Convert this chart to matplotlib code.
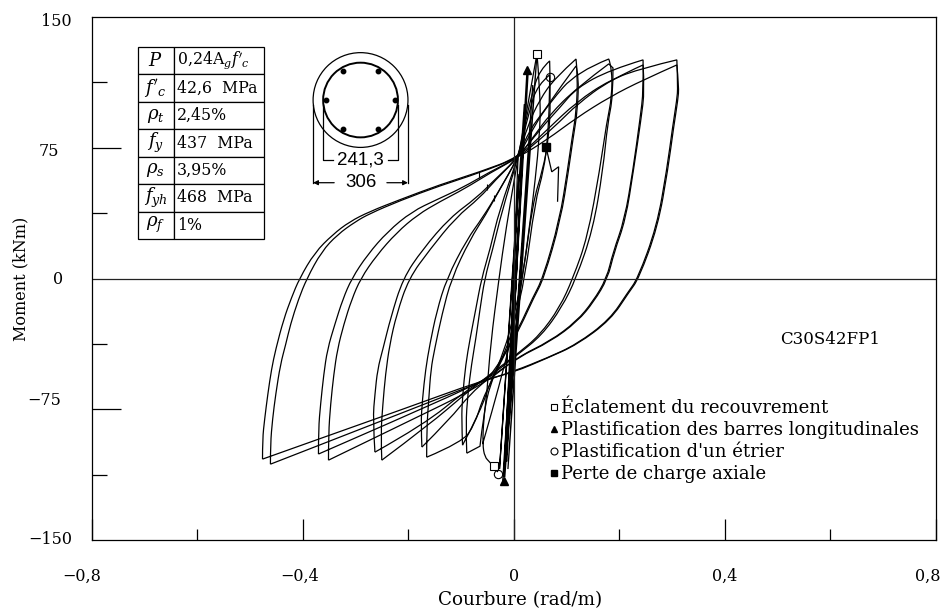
"""Moment-curvature hysteresis of specimen C30S42FP1."""

import matplotlib

matplotlib.use("Agg")

import matplotlib.pyplot as plt
import numpy as np
from matplotlib.lines import Line2D
from matplotlib.patches import Circle, PathPatch
from matplotlib.path import Path

plt.rcParams["font.family"] = ["DejaVu Serif"]
plt.rcParams["mathtext.fontset"] = "dejavuserif"

# curvature (rad/m) and moment (kNm)
loop1a_phi = [-.476, -.476, -.472, -.466, -.459, -.451, -.436, -.421, -.406, -.377, -.343, -.311, -.273, -.216, -.140, -.064, .008, .063, .119, .182, .245, .309, .311, .309, .301, .290, .271, .235, .216, .182, .119, .063, 0, -.059, -.216, -.349, -.461]
loop1a_m = [-103.6, -92.2, -80.7, -66.4, -52.1, -40.6, -23.5, -10.9, 0, 14.9, 25.2, 32.6, 38.4, 45.2, 53.8, 61.2, 69.3, 85.3, 101.3, 113.9, 120.8, 125.4, 109.9, 102.5, 87, 62.4, 29.8, 0, -8, -23.5, -37.8, -45.6, -53.2, -59, -77.6, -93.3, -106.5]
loop1b_phi = [-.461, -.461, -.457, -.451, -.442, -.432, -.423, -.408, -.392, -.364, -.334, -.300, -.273, -.216, -.140, -.064, .008, .063, .119, .182, .245, .309, .313, .311, .303, .292, .273, .237, .218, .184, .121, .064, 0, -.059, -.216, -.349, -.476]
loop1b_m = [-106.5, -95, -80.7, -66.4, -49.2, -37.8, -26.3, -12, 0, 15.5, 25.2, 32.6, 37.2, 44.6, 53.2, 60.7, 69.3, 79.6, 92.2, 104.2, 113.9, 122.5, 109.9, 102.5, 87, 62.4, 29.8, 0, -8, -23.5, -37.8, -45.6, -53.8, -58.4, -75.6, -89.9, -103.6]
loop2a_phi = [-.370, -.370, -.366, -.360, -.353, -.339, -.324, -.307, -.277, -.239, -.193, -.146, -.097, -.045, .008, .049, .087, .119, .182, .245, .246, .239, .226, .210, .188, .176, .150, .119, .068, .006, -.059, -.216, -.351]
loop2a_m = [-100.7, -86.4, -72.1, -55, -40.6, -26.3, -12, 0, 13.7, 26.9, 38.4, 45.2, 52.1, 61.2, 69.3, 85.3, 97.9, 109.3, 119.6, 125.4, 108.2, 91, 62.4, 33.8, 14.9, 0, -13.2, -24.6, -36.1, -45.2, -61.2, -84.4, -104.2]
loop2b_phi = [-.351, -.351, -.347, -.341, -.334, -.322, -.307, -.290, -.260, -.222, -.182, -.140, -.093, -.044, .008, .049, .087, .119, .182, .245, .248, .241, .227, .212, .190, .178, .152, .121, .070, .008, -.045, -.216, -.370]
loop2b_m = [-104.2, -89.3, -72.1, -55, -40.6, -26.3, -12, 0, 13.2, 26.3, 36.6, 44.1, 51.5, 60.7, 69.3, 79.6, 89.9, 99.6, 113.9, 122.5, 108.2, 91, 62.4, 33.8, 14.9, 0, -13.2, -24.6, -36.1, -45.2, -57.2, -80.4, -100.7]
loop3a_phi = [-.263, -.267, -.263, -.258, -.248, -.233, -.210, -.173, -.121, -.070, -.036, .008, .040, .068, .119, .180, .186, .186, .176, .163, .140, .112, .087, .049, .006, -.045, -.093, -.159, -.250]
loop3a_m = [-99.6, -80.7, -66.4, -52.1, -40.6, -22.3, 0, 16.6, 34.9, 46.4, 56.7, 69.3, 88.1, 100.7, 118.5, 125.9, 120.8, 104.2, 89.3, 62.4, 24, 0, -16.6, -32.6, -43.5, -55, -66.4, -83.6, -104.2]
loop3b_phi = [-.250, -.252, -.248, -.243, -.235, -.222, -.199, -.159, -.110, -.064, -.036, .008, .040, .068, .119, .180, .188, .188, .178, .169, .150, .118, .091, .053, .008, -.045, -.093, -.169, -.263]
loop3b_m = [-104.2, -89.3, -72.1, -55, -37.8, -20.6, 0, 16.6, 34.9, 46.4, 56.1, 69.3, 82.4, 93.9, 109.3, 123.1, 120.8, 104.2, 89.3, 62.4, 28, 0, -16.6, -32.6, -43.5, -56.1, -64.7, -83.6, -99.6]
loop4a_phi = [-.174, -.176, -.173, -.167, -.159, -.146, -.127, -.089, -.059, -.030, .008, .027, .049, .078, .118, .121, .119, .110, .102, .087, .055, .036, .011, -.008, -.045, -.059, -.074, -.097, -.165]
loop4a_m = [-96.7, -83.6, -69.3, -52.1, -37.8, -18.9, 0, 22.3, 34.9, 49.2, 69.3, 88.1, 102.5, 115, 125.9, 116.8, 96.7, 79.6, 62.4, 33.8, 0, -10.9, -27.5, -37.8, -60.7, -69.3, -83.6, -93.9, -102.5]
loop4b_phi = [-.165, -.165, -.161, -.157, -.150, -.136, -.118, -.083, -.053, -.027, .008, .030, .059, .087, .118, .123, .121, .112, .104, .089, .057, .038, .013, -.006, -.045, -.083, -.121, -.174]
loop4b_m = [-102.5, -86.4, -69.3, -52.1, -40.6, -20.6, 0, 22.3, 36.6, 50.9, 69.3, 85.3, 96.7, 109.3, 121.9, 116.8, 96.7, 79.6, 62.4, 33.8, 0, -10.9, -27.5, -37.8, -56.7, -66.4, -80.7, -96.7]
loop5a_phi = [-.097, -.099, -.097, -.091, -.083, -.072, -.061, -.045, -.027, .008, .021, .034, .049, .068, .070, .066, .055, .036, .017, -.002, -.017, -.045, -.057, -.064, -.089]
loop5a_m = [-95.6, -80.7, -67.5, -49.2, -34.9, -17.7, 0, 16.6, 39.5, 69.3, 88.1, 105.3, 119.6, 124.8, 102.5, 79.6, 62.4, 43.5, 0, -23.5, -40.6, -60.7, -77.8, -96.2, -100.2]
loop5b_phi = [-.089, -.091, -.087, -.080, -.072, -.064, -.055, -.040, -.023, .008, .030, .045, .068, .068, .064, .057, .040, .021, .002, -.013, -.045, -.061, -.097]
loop5b_m = [-100.2, -83.6, -66.4, -49.2, -34.9, -17.7, 0, 16.6, 37.8, 69.3, 96.7, 111, 116.8, 102.5, 79.6, 62.4, 43.5, 0, -23.5, -40.6, -59, -75, -95.6]
loop6_phi = [-.030, -.045, -.055, -.059, -.057, -.051, -.044, -.028, -.015, .008, .025, .044, .049, .051, .030, .004, -.017, -.040, -.059]
loop6_m = [-111, -105.3, -102.5, -95, -80.7, -66.4, -37.8, 0, 28, 69.3, 96.7, 128.8, 111, 85.3, 28, -23.5, -49.2, -75, -95]
stiff_phi = [-.021, .027, -.017, .044, -.011, .036, -.008, .020, -.027, .010, -.019, .025, -.013, .008]
stiff_m = [-116.8, 116.8, -113.9, 128.8, -109.3, 111, -80.7, 100, -109.3, 60, -114, 119, -105, 69]
tail_phi = [.061, .072, .085, .083]
tail_m = [75.6, 61.2, 64.1, 44]

spall_phi = [.044, -.038]
spall_m = [128.5, -107.5]
bar_yield_phi = [.025, -.019]
bar_yield_m = [119.5, -116]
hoop_yield_phi = [.068, -.030]
hoop_yield_m = [115.5, -112]
axial_loss_phi = [.061]
axial_loss_m = [75.6]
small_mark_phi = [-.066, -.050, -.038]
small_mark_m = [59.5, 52.5, 46]

table_rows = [
    ["$P$", "0,24A$_g f'_c$"],
    ["$f'_c$", "42,6  MPa"],
    [r"$\rho_t$", "2,45%"],
    ["$f_y$", "437  MPa"],
    [r"$\rho_s$", "3,95%"],
    ["$f_{yh}$", "468  MPa"],
    [r"$\rho_f$", "1%"],
]
x_major = [-0.8, -0.4, 0, 0.4, 0.8]
x_minor = [-0.6, -0.2, 0.2, 0.6]
x_labels = ["−0,8", "−0,4", "0", "0,4", "0,8"]
x_label_pos = [-.819, -.405, 0, .40, .785]
y_major = [-75, 75]
y_minor = [-112.5, -37.5, 37.5, 112.5]
y_labels = ["150", "75", "0", "−75", "−150"]
y_label_pos = [147.7, 72.7, -0.6, -69.8, -150]
y_label_x = [-.866, -.880, -.864, -.889, -.878]
bar_x = [110, 55, -55, -110, -55, 55]
bar_y = [0, 95, 95, 0, -95, -95]


def rounded_path(ax, phi, moment):
    """Bezier path through the read points, keeping the sharp loop tips."""
    verts = np.column_stack([phi, moment])
    screen = ax.transData.transform(verts)
    steps = np.diff(screen, axis=0)
    angles = np.arctan2(steps[:, 1], steps[:, 0])
    turns = np.abs((np.diff(angles) + np.pi) % (2 * np.pi) - np.pi)
    corners = [0] + [i + 1 for i, turn in enumerate(turns) if turn > np.radians(45)] + [len(verts) - 1]

    out = [verts[0]]
    codes = [Path.MOVETO]
    for start, stop in zip(corners[:-1], corners[1:]):
        for i in range(start + 1, stop):
            end = verts[stop] if i == stop - 1 else (verts[i] + verts[i + 1]) / 2
            out += [verts[i], end]
            codes += [Path.CURVE3, Path.CURVE3]
        if stop == start + 1:
            out.append(verts[stop])
            codes.append(Path.LINETO)
    return Path(out, codes)


fig = plt.figure(figsize=(9.41, 6.13), dpi=100)
ax = fig.add_axes([91.5 / 941, 73 / 613, 844.5 / 941, 523 / 613])
ax.set_xlim(-0.8, 0.8)
ax.set_ylim(-150, 150)
for spine in ax.spines.values():
    spine.set_linewidth(0.9)
ax.axhline(0, color="#222222", lw=0.9)
ax.axvline(0, color="#222222", lw=0.9)

ax.set_xticks(x_major, [""] * len(x_major))
ax.set_xticks(x_minor, minor=True)
ax.set_yticks(y_major, [""] * len(y_major))
ax.set_yticks(y_minor, minor=True)
ax.tick_params(axis="x", which="major", direction="in", length=15, width=0.9)
ax.tick_params(axis="x", which="minor", direction="in", length=8, width=0.9)
ax.tick_params(axis="y", which="major", direction="in", length=21, width=0.9)
ax.tick_params(axis="y", which="minor", direction="in", length=10.5, width=0.9)

loops = [
    (loop1a_phi, loop1a_m), (loop1b_phi, loop1b_m),
    (loop2a_phi, loop2a_m), (loop2b_phi, loop2b_m),
    (loop3a_phi, loop3a_m), (loop3b_phi, loop3b_m),
    (loop4a_phi, loop4a_m), (loop4b_phi, loop4b_m),
    (loop5a_phi, loop5a_m), (loop5b_phi, loop5b_m),
    (loop6_phi, loop6_m), (stiff_phi, stiff_m), (tail_phi, tail_m),
]
for phi, moment in loops:
    ax.add_patch(PathPatch(rounded_path(ax, phi, moment), fill=False, ec="black", lw=0.9))

ax.plot(spall_phi, spall_m, ls="", marker="s", ms=6, mfc="white", mec="black", mew=0.8)
ax.plot(bar_yield_phi, bar_yield_m, ls="", marker="^", ms=6, color="black")
ax.plot(hoop_yield_phi, hoop_yield_m, ls="", marker="o", ms=6, mfc="none", mec="black", mew=0.8)
ax.plot(axial_loss_phi, axial_loss_m, ls="", marker="s", ms=6, color="black")
ax.plot(small_mark_phi, small_mark_m, ls="", marker="|", ms=5, color="black", mew=0.8)

for label, pos in zip(x_labels, x_label_pos):
    ax.text(pos, -171, label, ha="center", va="center", fontsize=11.5)
for label, pos, x in zip(y_labels, y_label_pos, y_label_x):
    ax.text(x, pos, label, ha="center", va="center", fontsize=11.5)
ax.text(0.013, -184.5, "Courbure (rad/m)", ha="center", va="center", fontsize=13.2)
ax.text(-.933, 0, "Moment (kNm)", rotation=90, ha="center", va="center", fontsize=11.5)
ax.text(.599, -34.9, "C30S42FP1", ha="center", va="center", fontsize=12)

handles = [
    Line2D([], [], ls="", marker="s", ms=5, mfc="white", mec="black", mew=0.8),
    Line2D([], [], ls="", marker="^", ms=5, color="black"),
    Line2D([], [], ls="", marker="o", ms=5, mfc="white", mec="black", mew=0.8),
    Line2D([], [], ls="", marker="s", ms=5, color="black"),
]
names = [
    "Éclatement du recouvrement",
    "Plastification des barres longitudinales",
    "Plastification d'un étrier",
    "Perte de charge axiale",
]
ax.legend(handles, names, loc="upper left", bbox_to_anchor=(0.526, 0.287), frameon=False,
          fontsize=13, handletextpad=-0.1, labelspacing=0.23, borderpad=0, handlelength=1.0)

table = ax.table(cellText=table_rows, bbox=[0.0545, 0.5755, 0.1493, 0.367],
                 colWidths=[36 / 126, 90 / 126], cellLoc="left")
table.auto_set_font_size(False)
table.set_fontsize(11.3)
for (row, col), cell in table.get_celld().items():
    cell.set_linewidth(0.9)
    cell.PAD = 0.04
    if col == 0:
        cell.get_text().set_ha("center")
        cell.get_text().set_fontsize(13)

# column cross-section, dimensions in mm
sec = fig.add_axes([310 / 941, (613 - 192) / 613, 102 / 941, 144 / 613])
sec.set_xlim(-163, 166)
sec.set_ylim(-297, 168)
sec.axis("off")
sec.patch.set_alpha(0)
sec.add_patch(Circle((0, 0), 153, fill=False, lw=0.9))
sec.add_patch(Circle((0, 0), 120.6, fill=False, lw=1.4))
sec.plot(bar_x, bar_y, ls="", marker="o", ms=3.2, color="black")
sec.plot([120.6, 120.6, 88], [-15, -193, -193], color="black", lw=0.9)
sec.plot([-120.6, -120.6, -88], [-15, -193, -193], color="black", lw=0.9)
sec.plot([153, 153], [-15, -267], color="black", lw=0.9)
sec.plot([-153, -153], [-15, -267], color="black", lw=0.9)
for start, end in [(-85, -153), (85, 153)]:
    sec.annotate("", xy=(end, -267), xytext=(start, -267),
                 arrowprops=dict(arrowstyle="-|>", lw=0.9, color="black", mutation_scale=7,
                                 shrinkA=0, shrinkB=0))
sec.text(0, -193, "241,3", family="Liberation Sans", fontsize=13.5, ha="center", va="center")
sec.text(0, -267, "306", family="Liberation Sans", fontsize=13.5, ha="center", va="center")

fig.savefig("out.png", dpi=100)
plt.close(fig)
